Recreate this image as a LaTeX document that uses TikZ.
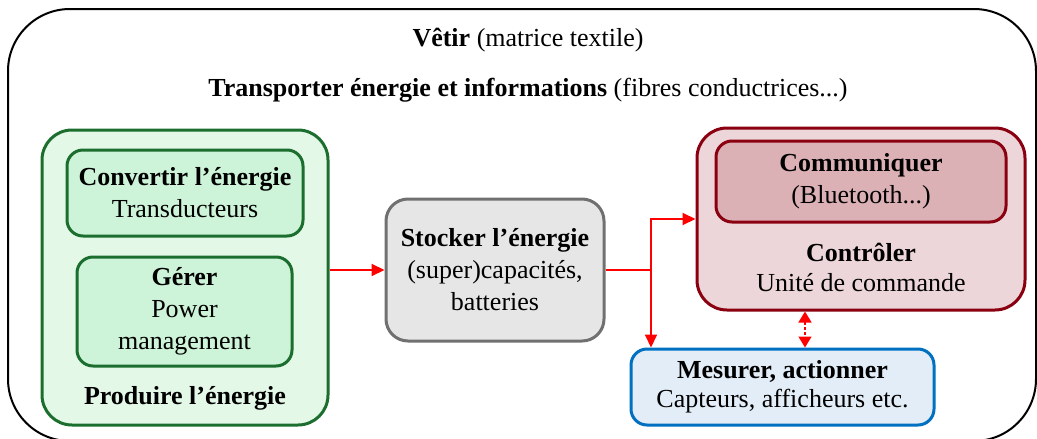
\documentclass[tikz,border=0pt]{standalone}
\usepackage{fontspec}
\setmainfont{Liberation Serif}
\usetikzlibrary{arrows.meta,positioning}
\definecolor{vertfonce}{HTML}{1C6E2E}
\definecolor{vertclair}{HTML}{E4F8E8}
\definecolor{vertmoyen}{HTML}{CDF4D8}
\definecolor{grisfonce}{HTML}{707070}
\definecolor{grisclair}{HTML}{E6E6E6}
\definecolor{rougefonce}{HTML}{8A0010}
\definecolor{rosepale}{HTML}{EDD6D9}
\definecolor{rosemoyen}{HTML}{DCB1B6}
\definecolor{bleufonce}{HTML}{0070C0}
\definecolor{bleupale}{HTML}{E3EDF7}

\begin{document}
\begin{tikzpicture}[x=1pt,y=-1pt,
  font=\fontsize{26}{32}\selectfont,
  boite/.style={draw,line width=3pt,inner sep=0pt,align=center},
  cadre/.style={draw,line width=2pt,rounded corners=62pt},
  grandvert/.style={boite,draw=vertfonce,fill=vertclair,rounded corners=30pt},
  petitvert/.style={boite,draw=vertfonce,fill=vertmoyen,rounded corners=16pt},
  boitegrise/.style={boite,draw=grisfonce,fill=grisclair,rounded corners=22pt},
  grandrouge/.style={boite,draw=rougefonce,fill=rosepale,rounded corners=30pt},
  petitrouge/.style={boite,draw=rougefonce,fill=rosemoyen,rounded corners=16pt},
  boitebleue/.style={boite,draw=bleufonce,fill=bleupale,rounded corners=16pt},
  fleche/.style={draw=red,line width=2pt,-{Triangle[length=13pt,width=12pt]}},
  flechedouble/.style={draw=red,line width=1.5pt,dash pattern=on 3pt off 2pt,{Triangle[length=11pt,width=13pt]}-{Triangle[length=11pt,width=13pt]}}]

\useasboundingbox (0,0) rectangle (1037,439);

\node (vetir) at (522,225)[cadre,minimum width=1028pt,minimum height=432pt] {};
\node (titre) at (528,40) {\textbf{Vêtir} (matrice textile)};
\node (transport) at (528,90) {\textbf{Transporter énergie et informations} (fibres conductrices...)};

\node (prod) at (185,277.5)[grandvert,minimum width=286pt,minimum height=295pt] {};
\node (conv) at (185,193)[petitvert,minimum width=236pt,minimum height=86pt] {\textbf{Convertir l’énergie}\\Transducteurs};
\node (gerer) at (184.5,311.5)[petitvert,minimum width=215pt,minimum height=109pt] {\textbf{Gérer}\\Power\\management};
\node (prodtxt) at (185,398) {\textbf{Produire l’énergie}};

\node (stock) at (495,270)[boitegrise,minimum width=218pt,minimum height=142pt] {\textbf{Stocker l’énergie}\\(super)capacités,\\batteries};

\node (ctrl) at (861,219)[grandrouge,minimum width=328pt,minimum height=182pt] {};
\node (comm) at (861,181.5)[petitrouge,minimum width=290pt,minimum height=81pt] {\textbf{Communiquer}\\(Bluetooth...)};
\node (ctrltxt) at (861,267)[align=center] {\textbf{Contrôler}\\[-2pt]Unité de commande};

\node (mes) at (782.5,387)[boitebleue,minimum width=303pt,minimum height=76pt] {\textbf{Mesurer, actionner}\\[-3pt]Capteurs, afficheurs etc.};

\coordinate (split) at (651,270);
\coordinate (bus) at (805,330);

\draw [fleche] (prod.east |- stock.west) -- (stock.west);
\draw [draw=red,line width=2pt] (stock.east) -- (split);
\draw [fleche] (split) |- (ctrl.west);
\draw [fleche] (split) -- (split |- mes.north);
\draw [flechedouble] (bus |- ctrl.south) -- (bus |- mes.north);
\end{tikzpicture}
\end{document}
